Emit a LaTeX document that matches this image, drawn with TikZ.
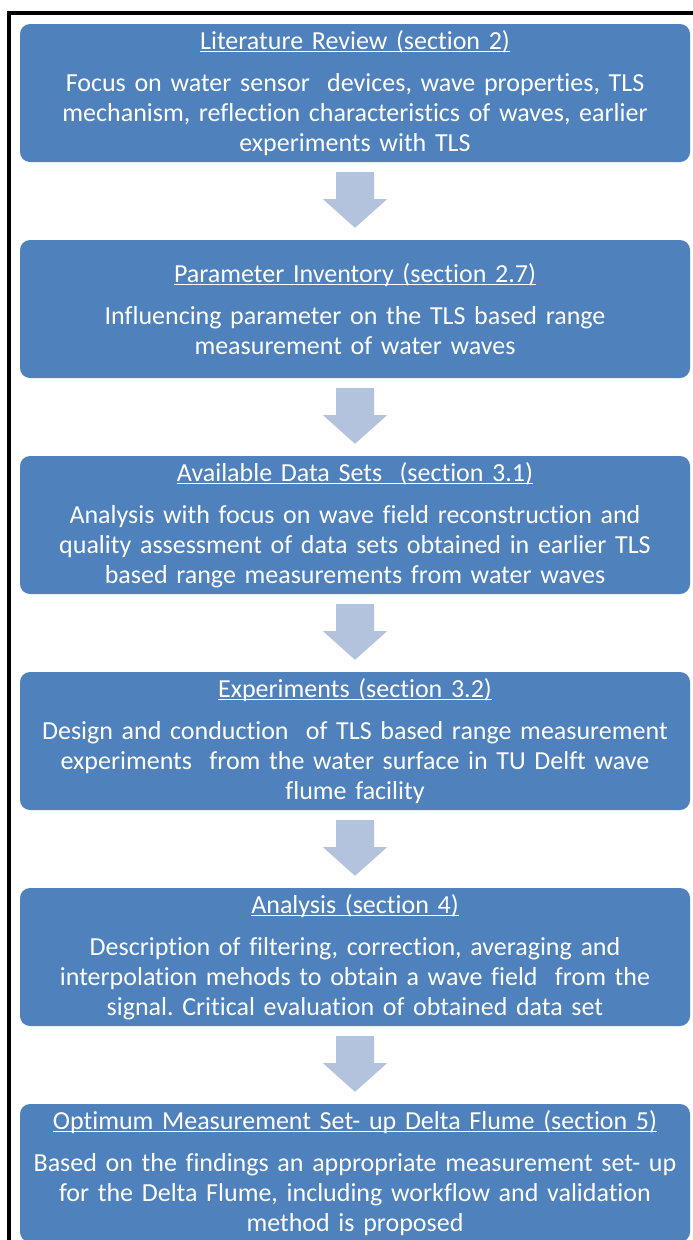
\documentclass[tikz,border=0pt]{standalone}
\usepackage{fontspec}
\setmainfont{Carlito}[Ligatures=NoCommon]
\usetikzlibrary{positioning,calc}

\definecolor{boxblue}{RGB}{79,129,189}
\definecolor{arrowblue}{RGB}{179,195,222}
% underlined heading, line close to the baseline
\newcommand{\ulhead}[1]{\setbox0\hbox{#1}\rlap{\rule[-2.4pt]{\wd0}{1.1pt}}\box0}
\frenchspacing

\begin{document}
\begin{tikzpicture}[x=1pt, y=-1pt,
	stepbox/.style={fill=boxblue, rounded corners=10pt, minimum width=670pt, minimum height=138pt,
		text width=666pt, align=center, text=white, inner sep=0pt, font=\fontsize{26}{30}\selectfont},
	flowarrow/.style={fill=arrowblue}]
		\useasboundingbox (0,0) rectangle (693,1240);
		\clip (0,0) rectangle (693,1240);
		
		%frame
		\draw[line width=3.5pt] (9,13) rectangle (730,1300);
		
		%steps
		\node[stepbox] (lit) at (355,93) {\ulhead{Literature Review (section 2)}\\[12pt]
			Focus on water sensor~ devices, wave properties, TLS\\
			mechanism, reflection characteristics of waves, earlier\\
			experiments with TLS};
		\node[stepbox, below=77.6pt of lit] (param) {\ulhead{Parameter Inventory (section 2.7)}\\[12pt]
			Influencing parameter on the TLS based range\\
			measurement of water waves};
		\node[stepbox, below=77.6pt of param] (avail) {\ulhead{Available Data Sets~ (section 3.1)}\\[12pt]
			Analysis with focus on wave field reconstruction and\\
			quality assessment of data sets obtained in earlier TLS\\
			based range measurements from water waves};
		\node[stepbox, below=77.6pt of avail] (exper) {\ulhead{Experiments (section 3.2)}\\[12pt]
			Design and conduction~ of TLS based range measurement\\
			experiments~ from the water surface in TU Delft wave\\
			flume facility};
		\node[stepbox, below=77.6pt of exper] (anal) {\ulhead{Analysis (section 4)}\\[12pt]
			Description of filtering, correction, averaging and\\
			interpolation mehods to obtain a wave field~ from the\\
			signal. Critical evaluation of obtained data set};
		\node[stepbox, below=77.6pt of anal] (optim) {\ulhead{Optimum Measurement Set- up Delta Flume (section 5)}\\[12pt]
			Based on the findings an appropriate measurement set- up\\
			for the Delta Flume, including workflow and validation\\
			method is proposed};
		
		%block arrows
		\foreach \a/\b in {lit/param, param/avail, avail/exper, exper/anal, anal/optim}{
			\fill[flowarrow] ($(\a.south)+(-19,10)$) -- ($(\a.south)+(19,10)$) -- ($(\a.south)+(19,37)$)
				-- ($(\a.south)+(32,37)$) -- ($(\b.north)+(0,-12)$) -- ($(\a.south)+(-32,37)$)
				-- ($(\a.south)+(-19,37)$) -- cycle;
		}
\end{tikzpicture}
\end{document}
